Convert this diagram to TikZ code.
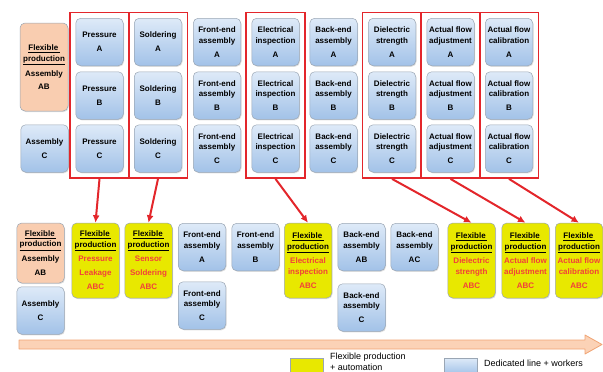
\documentclass[tikz,border=0pt]{standalone}
\usepackage{fontspec}
\setmainfont{Liberation Sans}
\usepackage{xcolor}
\usepackage{tikz}
\usetikzlibrary{arrows.meta,fit,shadows}
\definecolor{cellTop}{HTML}{DEEAF8}
\definecolor{cellBot}{HTML}{A2C2E8}
\definecolor{boxLine}{HTML}{9AA6B4}
\definecolor{flexFill}{HTML}{F9CDB0}
\definecolor{autoFill}{HTML}{E8E800}
\definecolor{autoRed}{HTML}{F2403A}
\definecolor{frameRed}{HTML}{E3262B}
\definecolor{barFill}{HTML}{FBD2B6}
\definecolor{barLine}{HTML}{F0A474}
\newcommand{\rt}[1]{\textcolor{autoRed}{#1}}
\newcommand{\FlexHead}{\underline{Flexible\,}\\\underline{production}}
\tikzset{
  box/.style={draw=boxLine, line width=0.5pt, rounded corners=5pt,
    minimum width=47.5pt, minimum height=47.5pt, inner sep=1pt, align=center,
    font=\fontsize{8}{10.5}\selectfont\bfseries,
    drop shadow={shadow xshift=0.8pt, shadow yshift=-1pt, opacity=0.25}},
  cell/.style={box, top color=cellTop, bottom color=cellBot},   % dedicated line
  flexcell/.style={box, fill=flexFill},                         % flexible, manual
  autocell/.style={box, fill=autoFill, minimum height=75pt},    % flexible + automation
  redframe/.style={draw=frameRed, line width=1.8pt, inner xsep=5.5pt, inner ysep=5.5pt},
  flowArrow/.style={-{Latex[length=7.5pt,width=7pt]}, draw=frameRed, line width=2pt},
  legendbox/.style={draw=boxLine, line width=0.5pt, minimum width=33pt, minimum height=16pt},
  legendtext/.style={align=left, inner sep=0pt, font=\fontsize{9}{11}\selectfont}
}
\newcommand{\TopColumn}[3]{% #1=name, #2=label, #3=x
  \foreach \rw/\yy in {A/42,B/95.5,C/148.5}{%
    \node[cell] (#1\rw) at (#3,\yy) {#2\\[3.5pt]\rw};
  }%
}
\newcommand{\AutoCell}[3]{% #1=name, #2=x, #3=red label
  \node[autocell] (#1) at (#2,260.5) {\FlexHead\\[4pt]#3\\[3.5pt]\rt{ABC}};
}

\begin{document}
\begin{tikzpicture}[x=1pt, y=-1pt]
  \useasboundingbox (0,0) rectangle (603,372);
  \clip (0,0) rectangle (603,372);
  % Current lines
  \node[flexcell, minimum width=48pt, minimum height=88pt] (topFlexAB) at (44,67)
    {\FlexHead\\[4.5pt]Assembly\\[2.5pt]AB};
  \node[cell] (topAsmC) at (44.5,148.5) {Assembly\\[3.5pt]C};
  \TopColumn{pre}{Pressure}{99.5}
  \TopColumn{sol}{Soldering}{158}
  \TopColumn{fe}{Front-end\\assembly}{217}
  \TopColumn{ele}{Electrical\\inspection}{275.5}
  \TopColumn{be}{Back-end\\assembly}{333.5}
  \TopColumn{die}{Dielectric\\strength}{392}
  \TopColumn{adj}{Actual flow\\adjustment}{450.5}
  \TopColumn{cal}{Actual flow\\calibration}{509}
  % Stations merged into one flexible line
  \node[redframe, fit=(preA)(preC)] (frmPre) {};
  \node[redframe, fit=(solA)(solC)] (frmSol) {};
  \node[redframe, fit=(eleA)(eleC)] (frmEle) {};
  \node[redframe, fit=(dieA)(dieC)] (frmDie) {};
  \node[redframe, fit=(adjA)(adjC)] (frmAdj) {};
  \node[redframe, fit=(calA)(calC)] (frmCal) {};
  % Future lines
  \node[flexcell, minimum height=60pt] (botFlexAB) at (40.5,253)
    {\FlexHead\\[4.5pt]Assembly\\[3pt]AB};
  \node[cell] (botAsmC) at (40.5,310.5) {Assembly\\[3.5pt]C};
  \AutoCell{autoPre}{95.5}{\rt{Pressure}\\[3.5pt]\rt{Leakage}}
  \AutoCell{autoSol}{148.5}{\rt{Sensor}\\[3.5pt]\rt{Soldering}}
  \node[cell] (botFeA) at (202,247) {Front-end\\assembly\\[3.5pt]A};
  \node[cell] (botFeC) at (202,305.5) {Front-end\\assembly\\[3.5pt]C};
  \node[cell] (botFeB) at (255.5,247) {Front-end\\assembly\\[3.5pt]B};
  \AutoCell{autoEle}{308}{\rt{Electrical}\\\rt{inspection}}
  \node[cell] (botBeAB) at (361.5,247) {Back-end\\assembly\\[3.5pt]AB};
  \node[cell] (botBeC) at (361.5,307.5) {Back-end\\assembly\\[3.5pt]C};
  \node[cell] (botBeAC) at (414.5,247) {Back-end\\assembly\\[3.5pt]AC};
  \AutoCell{autoDie}{471.5}{\rt{Dielectric}\\\rt{strength}}
  \AutoCell{autoAdj}{525.5}{\rt{Actual flow}\\\rt{adjustment}}
  \AutoCell{autoCal}{579}{\rt{Actual flow}\\\rt{calibration}}
  % Arrows
  \draw[flowArrow] (frmPre.south) -- (autoPre.north);
  \draw[flowArrow] (frmSol.south) -- (autoSol.north);
  \draw[flowArrow] (frmEle.south) -- (autoEle.north);
  \draw[flowArrow] (frmDie.south) -- (autoDie.north);
  \draw[flowArrow] (frmAdj.south) -- (autoAdj.north);
  \draw[flowArrow] (frmCal.south) -- (autoCal.north);
  % Time bar
  \draw[fill=barFill, draw=barLine, line width=0.8pt, line join=round]
    (19,340) -- (585,340) -- (585,335) -- (602,344.5) -- (585,354)
    -- (585,349) -- (19,349) -- cycle;
  % Legend
  \node[legendbox, fill=autoFill] (legAuto) at (306.5,366) {};
  \node[legendtext, anchor=north west] (legAutoTxt) at (330,352.5)
    {Flexible production\\+ automation};
  \node[legendbox, top color=cellTop, bottom color=cellBot] (legDed) at (460.5,366) {};
  \node[legendtext, anchor=west] (legDedTxt) at (484,363.5) {Dedicated line + workers};
\end{tikzpicture}
\end{document}
